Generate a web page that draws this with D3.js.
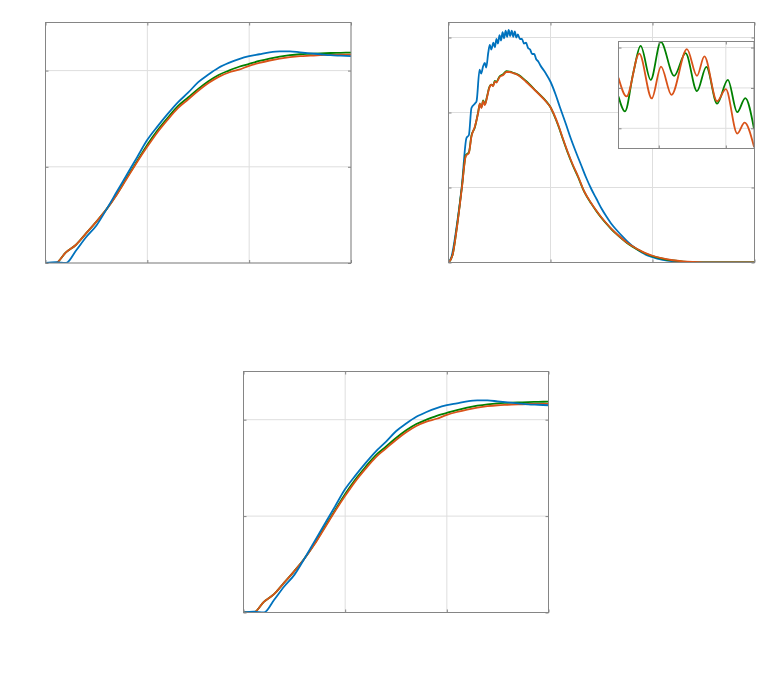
<!DOCTYPE html>
<html>
<head>
<meta charset="utf-8">
<script src="https://cdn.jsdelivr.net/npm/d3@7"></script>
<style>
  body { margin: 0; background: #fff; }
  .grid line { stroke: #dedede; stroke-width: 1; }
  .box { fill: none; stroke: #858585; stroke-width: 1; }
  .ticks line { stroke: #858585; }
  .ticks .domain { display: none; }
  .curve { fill: none; stroke-width: 1.8; stroke-linejoin: round; }
</style>
</head>
<body>
<div id="chart"></div>
<script>
/* global d3 */

// Our canvas
const width = 764,
      height = 685

// S-shaped curves (top left and bottom)
const cdfX = [0, 0.1, 0.2, 0.3, 0.4, 0.5, 0.6, 0.7, 0.8, 0.9, 1.0, 1.1, 1.2, 1.3, 1.4, 1.5,
  1.6, 1.7, 1.8, 1.9, 2.0, 2.1, 2.2, 2.3, 2.4, 2.5, 2.6, 2.7, 2.8, 2.9, 3.0]
const cdfBlue = [0, 0.01, 0, 0.13, 0.27, 0.39, 0.56, 0.74, 0.92, 1.1, 1.28, 1.42, 1.55, 1.67, 1.77, 1.88,
  1.96, 2.03, 2.08, 2.12, 2.15, 2.17, 2.19, 2.2, 2.2, 2.19, 2.18, 2.17, 2.16, 2.155, 2.15]
const cdfOrange = [0, 0, 0.11, 0.19, 0.31, 0.43, 0.56, 0.71, 0.88, 1.05, 1.21, 1.36, 1.49, 1.61, 1.7, 1.79,
  1.87, 1.935, 1.98, 2.01, 2.05, 2.08, 2.105, 2.125, 2.14, 2.15, 2.155, 2.16, 2.163, 2.165, 2.165]
const cdfGreen = [0, 0, 0.11, 0.19, 0.31, 0.43, 0.56, 0.715, 0.89, 1.06, 1.23, 1.38, 1.51, 1.63, 1.72, 1.81,
  1.89, 1.955, 2.0, 2.04, 2.07, 2.1, 2.125, 2.145, 2.16, 2.17, 2.175, 2.18, 2.183, 2.185, 2.187]
const cdfXTicks = [0, 1, 2, 3]
const cdfYTicks = [0, 1, 2]

// bell-shaped curves (top right)
const pdfXBlue = [0, 0.03, 0.08, 0.13, 0.176, 0.2, 0.225, 0.26, 0.275, 0.305, 0.32, 0.34, 0.356, 0.37,
  0.39, 0.405, 0.42, 0.44, 0.455, 0.47, 0.485, 0.5, 0.515, 0.53, 0.545, 0.56, 0.575, 0.59, 0.605,
  0.62, 0.635, 0.65, 0.665, 0.68, 0.7, 0.72, 0.74, 0.76, 0.78, 0.8, 0.82, 0.84, 0.86, 0.88, 0.9,
  0.95, 1.0, 1.05, 1.09, 1.15, 1.2, 1.25, 1.3, 1.35, 1.4, 1.45, 1.5, 1.55, 1.6, 1.65, 1.7, 1.75,
  1.8, 1.85, 1.9, 1.95, 2.0, 2.1, 2.2, 2.3, 2.4, 3.0]
const pdfBlue = [0, 0.08, 0.48, 1.01, 1.66, 1.7, 2.06, 2.12, 2.15, 2.57, 2.52, 2.62, 2.66, 2.6,
  2.8, 2.9, 2.84, 2.93, 2.87, 2.98, 2.92, 3.03, 2.96, 3.07, 2.99, 3.09, 3.01, 3.1, 3.02,
  3.09, 3.01, 3.08, 3.0, 3.04, 2.98, 2.98, 2.92, 2.93, 2.86, 2.84, 2.78, 2.78, 2.71, 2.68, 2.63,
  2.53, 2.41, 2.24, 2.08, 1.85, 1.65, 1.47, 1.3, 1.13, 0.98, 0.85, 0.72, 0.61, 0.51, 0.43, 0.355, 0.285,
  0.225, 0.175, 0.13, 0.095, 0.07, 0.035, 0.015, 0.005, 0, 0]
const pdfX = [0, 0.04, 0.08, 0.13, 0.17, 0.2, 0.225, 0.258, 0.29, 0.307, 0.323, 0.34, 0.356, 0.379,
  0.398, 0.42, 0.437, 0.454, 0.47, 0.5, 0.536, 0.568, 0.6, 0.634, 0.68, 0.76, 0.86, 0.96, 1.0,
  1.03, 1.08, 1.12, 1.17, 1.22, 1.27, 1.33, 1.4, 1.45, 1.5, 1.55, 1.6, 1.65, 1.7, 1.75, 1.8, 1.85,
  1.9, 1.95, 2.0, 2.1, 2.2, 2.3, 2.4, 2.5, 2.6, 3.0]
const pdfOrange = [0, 0.1, 0.44, 0.98, 1.42, 1.46, 1.68, 1.81, 1.99, 2.12, 2.06, 2.15, 2.1, 2.21,
  2.32, 2.37, 2.35, 2.41, 2.4, 2.47, 2.5, 2.54, 2.54, 2.525, 2.5, 2.41, 2.28, 2.14, 2.07,
  1.99, 1.82, 1.66, 1.47, 1.3, 1.15, 0.95, 0.79, 0.69, 0.6, 0.52, 0.445, 0.38, 0.32, 0.265, 0.22, 0.18,
  0.145, 0.115, 0.09, 0.055, 0.03, 0.015, 0.007, 0.002, 0, 0]
const pdfGreen = [0, 0.1, 0.45, 0.99, 1.43, 1.47, 1.69, 1.8, 2.0, 2.11, 2.07, 2.16, 2.11, 2.22,
  2.33, 2.37, 2.36, 2.42, 2.41, 2.48, 2.51, 2.55, 2.545, 2.53, 2.505, 2.42, 2.285, 2.145, 2.07,
  1.98, 1.81, 1.65, 1.46, 1.29, 1.14, 0.945, 0.785, 0.685, 0.595, 0.515, 0.44, 0.375, 0.315, 0.26, 0.215, 0.175,
  0.14, 0.11, 0.085, 0.05, 0.027, 0.013, 0.006, 0.002, 0, 0]
const pdfXTicks = [0, 1, 2, 3]
const pdfYTicks = [0, 1, 2, 3]

// zoomed inset
const zoomXGreen = [0.44, 0.4497, 0.462, 0.473, 0.488, 0.503, 0.523, 0.54, 0.557, 0.571, 0.587, 0.603, 0.617, 0.629, 0.642]
const zoomGreen = [2.479, 2.442, 2.537, 2.604, 2.52, 2.614, 2.53, 2.586, 2.492, 2.552, 2.461, 2.52, 2.44, 2.475, 2.399]
const zoomXOrange = [0.44, 0.452, 0.471, 0.4896, 0.5034, 0.519, 0.542, 0.557, 0.568, 0.587, 0.6, 0.617, 0.628, 0.642]
const zoomOrange = [2.525, 2.479, 2.585, 2.474, 2.553, 2.483, 2.596, 2.53, 2.578, 2.467, 2.497, 2.387, 2.414, 2.354]
const zoomXTicks = [0.5, 0.6]
const zoomYTicks = [2.4, 2.5, 2.6]

const blue = '#0072bd',
      orange = '#d95319',
      green = '#008000'

// Drawing area
let svg = d3.select('#chart')
  .append('svg')
  .attr('width', width)
  .attr('height', height)

let clipCount = 0

// one set of axes: grid, curves, box and inner ticks
let drawAxes = (box, xDomain, yDomain, xTicks, yTicks, series) => {
  let x = d3.scaleLinear().domain(xDomain).range([box.left, box.left + box.w])
  let y = d3.scaleLinear().domain(yDomain).range([box.top + box.h, box.top])
  let g = svg.append('g')
  let clipId = 'clip' + (clipCount++)

  g.append('clipPath')
    .attr('id', clipId)
    .append('rect')
    .attr('x', box.left)
    .attr('y', box.top)
    .attr('width', box.w)
    .attr('height', box.h)

  g.append('rect')
    .attr('x', box.left)
    .attr('y', box.top)
    .attr('width', box.w)
    .attr('height', box.h)
    .attr('fill', '#fff')

  let grid = g.append('g').attr('class', 'grid')
  grid.selectAll('line.v')
    .data(xTicks)
    .enter()
    .append('line')
    .attr('class', 'v')
    .attr('x1', d => x(d))
    .attr('x2', d => x(d))
    .attr('y1', box.top)
    .attr('y2', box.top + box.h)
  grid.selectAll('line.h')
    .data(yTicks)
    .enter()
    .append('line')
    .attr('class', 'h')
    .attr('x1', box.left)
    .attr('x2', box.left + box.w)
    .attr('y1', d => y(d))
    .attr('y2', d => y(d))

  let line = d3.line()
    .x(d => x(d[0]))
    .y(d => y(d[1]))
    .curve(d3.curveMonotoneX)

  g.append('g')
    .attr('clip-path', `url(#${ clipId })`)
    .selectAll('path')
    .data(series)
    .enter()
    .append('path')
    .attr('class', 'curve')
    .attr('stroke', d => d.color)
    .attr('d', d => line(d3.zip(d.xs, d.ys)))

  // tick marks point inwards on all four sides
  let tickLen = 3
  g.append('g').attr('class', 'ticks')
    .attr('transform', `translate(0, ${ box.top + box.h })`)
    .call(d3.axisBottom(x).tickValues(xTicks).tickSize(-tickLen).tickSizeOuter(0).tickFormat(''))
  g.append('g').attr('class', 'ticks')
    .attr('transform', `translate(0, ${ box.top })`)
    .call(d3.axisTop(x).tickValues(xTicks).tickSize(-tickLen).tickSizeOuter(0).tickFormat(''))
  g.append('g').attr('class', 'ticks')
    .attr('transform', `translate(${ box.left }, 0)`)
    .call(d3.axisLeft(y).tickValues(yTicks).tickSize(-tickLen).tickSizeOuter(0).tickFormat(''))
  g.append('g').attr('class', 'ticks')
    .attr('transform', `translate(${ box.left + box.w }, 0)`)
    .call(d3.axisRight(y).tickValues(yTicks).tickSize(-tickLen).tickSizeOuter(0).tickFormat(''))

  g.append('rect')
    .attr('class', 'box')
    .attr('x', box.left)
    .attr('y', box.top)
    .attr('width', box.w)
    .attr('height', box.h)
}

let cdfSeries = [
  { xs: cdfX, ys: cdfGreen, color: green },
  { xs: cdfX, ys: cdfOrange, color: orange },
  { xs: cdfX, ys: cdfBlue, color: blue }
]

drawAxes({ left: 45.5, top: 22.5, w: 305.5, h: 240.5 }, [0, 3], [0, 2.5], cdfXTicks, cdfYTicks, cdfSeries)

drawAxes({ left: 448.5, top: 22.5, w: 306, h: 240 }, [0, 3], [0, 3.2], pdfXTicks, pdfYTicks, [
  { xs: pdfXBlue, ys: pdfBlue, color: blue },
  { xs: pdfX, ys: pdfGreen, color: green },
  { xs: pdfX, ys: pdfOrange, color: orange }
])

drawAxes({ left: 618.5, top: 41.5, w: 135.5, h: 107 }, [0.44, 0.642], [2.35, 2.615], zoomXTicks, zoomYTicks, [
  { xs: zoomXGreen, ys: zoomGreen, color: green },
  { xs: zoomXOrange, ys: zoomOrange, color: orange }
])

drawAxes({ left: 243.5, top: 371.5, w: 305, h: 241 }, [0, 3], [0, 2.5], cdfXTicks, cdfYTicks, cdfSeries)
</script>
</body>
</html>
